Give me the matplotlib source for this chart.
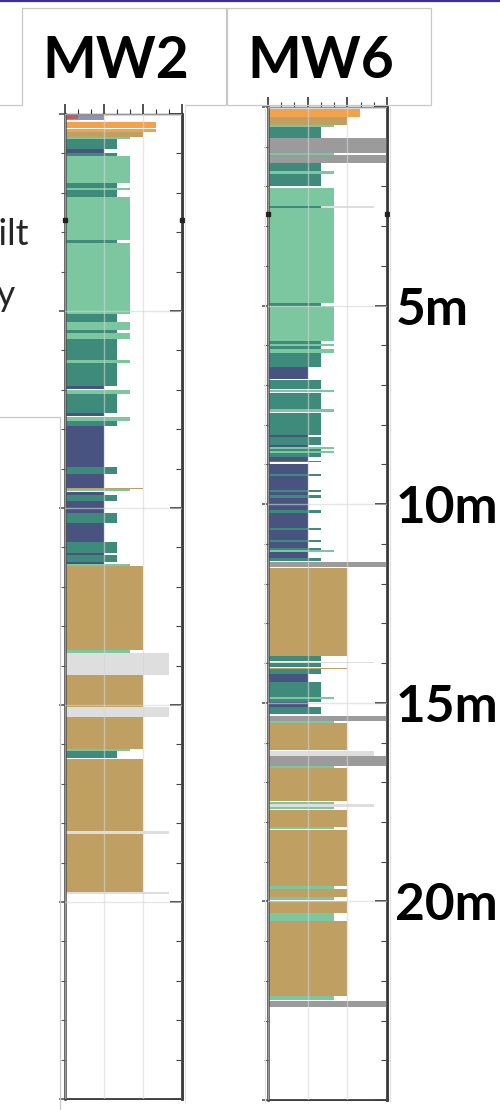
import matplotlib
matplotlib.use('Agg')
import matplotlib.pyplot as plt
from matplotlib.lines import Line2D
from matplotlib.patches import Rectangle
from matplotlib.ticker import MultipleLocator

plt.rcParams['font.family'] = ['Lato', 'DejaVu Sans']

W, H = 500, 1110

# classes: bar length (grain size scale 0-3) and colour
class_width = {'fill': 1.0, 'organic': 0.33, 'clay': 1.0, 'siltyclay': 1.33,
               'silt': 1.67, 'sand': 2.0, 'gravel': 2.33, 'norec': 2.67, 'casing': 3.0}
class_color = {'fill': '#8d94b6', 'organic': '#c65a5a', 'clay': '#48547f',
               'siltyclay': '#3f8b7b', 'silt': '#7cc7a0', 'sand': '#bf9f62',
               'gravel': '#f2a14c', 'norec': '#dedede', 'casing': '#9b9b9b'}

# MW2 log (depth in m)
mw2_top = [0.03, 0.03, 0.20, 0.38, 0.46, 0.58, 0.64, 0.90, 1.00, 1.07, 1.75, 1.88, 1.92,
           2.10, 3.20, 3.28, 5.08, 5.28, 5.48, 5.55, 5.70, 6.25, 6.32, 6.90, 7.00, 7.10,
           7.58, 7.70, 7.80, 7.92, 8.96, 9.14, 9.48, 9.53, 9.60, 9.66, 9.82, 10.12, 10.38,
           10.86, 11.14, 11.20, 11.37, 11.43, 11.47, 13.60, 13.68, 14.24, 15.05, 15.30,
           16.12, 16.17, 16.37, 18.20, 18.28, 19.75]
mw2_base = [0.15, 0.12, 0.36, 0.45, 0.58, 0.64, 0.88, 1.00, 1.07, 1.75, 1.88, 1.92, 2.10,
            3.20, 3.28, 5.08, 5.28, 5.48, 5.55, 5.70, 6.25, 6.32, 6.90, 6.98, 7.10, 7.58,
            7.66, 7.80, 7.92, 8.96, 9.14, 9.48, 9.53, 9.58, 9.66, 9.82, 10.12, 10.38, 10.86,
            11.14, 11.20, 11.37, 11.43, 11.47, 13.60, 13.67, 14.24, 15.05, 15.30, 16.12,
            16.17, 16.35, 18.20, 18.28, 19.75, 19.80]
mw2_cls = ['fill', 'organic', 'gravel', 'gravel', 'sand', 'silt', 'siltyclay', 'clay',
           'siltyclay', 'silt', 'siltyclay', 'silt', 'siltyclay', 'silt', 'siltyclay', 'silt',
           'siltyclay', 'silt', 'siltyclay', 'silt', 'siltyclay', 'silt', 'siltyclay', 'clay',
           'silt', 'siltyclay', 'clay', 'silt', 'siltyclay', 'clay', 'siltyclay', 'clay',
           'sand', 'silt', 'clay', 'siltyclay', 'clay', 'siltyclay', 'clay', 'siltyclay',
           'clay', 'siltyclay', 'clay', 'silt', 'sand', 'silt', 'norec', 'sand', 'norec',
           'sand', 'silt', 'siltyclay', 'sand', 'norec', 'sand', 'norec']

# MW6 log (depth in m)
mw6_top = [0.05, 0.25, 0.45, 0.50, 0.78, 1.15, 1.20, 1.40, 1.60, 1.68, 2.03, 2.50, 2.50,
           2.55, 4.93, 5.00, 5.90, 5.97, 6.02, 6.10, 6.20, 6.55, 6.88, 7.12, 7.20, 7.60,
           7.70, 8.25, 8.32, 8.50, 8.57, 8.62, 8.67, 8.72, 8.80, 8.90, 9.00, 9.25, 9.30,
           9.65, 9.70, 9.78, 9.85, 10.15, 10.22, 10.60, 10.65, 10.90, 10.95, 11.10, 11.16,
           11.20, 11.35, 11.46, 11.60, 13.82, 13.97, 14.00, 14.12, 14.16, 14.28, 14.48,
           14.70, 14.85, 14.90, 14.98, 15.10, 15.33, 15.45, 15.50, 16.22, 16.33, 16.58,
           16.63, 17.50, 17.55, 17.62, 17.70, 18.12, 18.20, 19.62, 19.68, 19.90, 19.98,
           20.30, 20.50, 22.37, 22.50]
mw6_base = [0.25, 0.45, 0.50, 0.78, 1.15, 1.20, 1.40, 1.60, 1.68, 2.00, 2.50, 2.55, 2.55,
            4.93, 5.00, 5.90, 5.97, 6.02, 6.10, 6.20, 6.55, 6.85, 7.10, 7.18, 7.60, 7.67,
            8.25, 8.32, 8.50, 8.55, 8.62, 8.67, 8.72, 8.80, 8.90, 8.95, 9.25, 9.30, 9.65,
            9.70, 9.78, 9.85, 10.15, 10.22, 10.60, 10.65, 10.90, 10.95, 11.10, 11.16, 11.20,
            11.35, 11.44, 11.58, 13.82, 13.95, 14.00, 14.10, 14.16, 14.28, 14.48, 14.70,
            14.85, 14.90, 14.97, 15.10, 15.27, 15.45, 15.50, 16.20, 16.33, 16.58, 16.63,
            17.48, 17.55, 17.62, 17.67, 18.12, 18.17, 19.62, 19.68, 19.90, 19.97, 20.30,
            20.50, 22.37, 22.48, 22.67]
mw6_cls = ['gravel', 'sand', 'silt', 'siltyclay', 'casing', 'silt', 'casing', 'siltyclay',
           'silt', 'siltyclay', 'silt', 'norec', 'siltyclay', 'silt', 'siltyclay', 'silt',
           'siltyclay', 'silt', 'siltyclay', 'silt', 'siltyclay', 'clay', 'siltyclay', 'silt',
           'siltyclay', 'silt', 'siltyclay', 'clay', 'siltyclay', 'clay', 'silt', 'siltyclay',
           'silt', 'siltyclay', 'clay', 'siltyclay', 'clay', 'siltyclay', 'clay', 'siltyclay',
           'clay', 'siltyclay', 'clay', 'siltyclay', 'clay', 'siltyclay', 'clay', 'siltyclay',
           'clay', 'siltyclay', 'silt', 'clay', 'siltyclay', 'casing', 'sand', 'siltyclay',
           'norec', 'siltyclay', 'sand', 'siltyclay', 'clay', 'siltyclay', 'siltyclay', 'silt',
           'siltyclay', 'clay', 'siltyclay', 'casing', 'silt', 'sand', 'norec', 'casing',
           'silt', 'sand', 'silt', 'norec', 'silt', 'sand', 'silt', 'sand', 'silt', 'sand',
           'silt', 'sand', 'silt', 'sand', 'silt', 'casing']

depth_ticks = [5, 10, 15, 20]
depth_labels = ['5m', '10m', '15m', '20m']
mark_depth = 2.7
max_depth = 25


def fx(px):
    return px / W


def fy(py):
    return 1 - py / H


fig = plt.figure(figsize=(W / 100, H / 100), dpi=100)


def draw_log(rect, tops, bases, cls, labels):
    l, t, r, b = rect
    ax = fig.add_axes([fx(l), fy(b), fx(r - l), (b - t) / H])
    centers = [(a + c) / 2 for a, c in zip(tops, bases)]
    thick = [c - a for a, c in zip(tops, bases)]
    ax.barh(centers, [class_width[c] for c in cls], height=thick, left=0,
            color=[class_color[c] for c in cls], linewidth=0, zorder=2)
    ax.plot([0, 3], [mark_depth, mark_depth], ls='none', marker='s', ms=2.2,
            color='#222222', clip_on=False, zorder=6)
    ax.set_xlim(0, 3)
    ax.set_ylim(max_depth, 0)
    ax.xaxis.set_major_locator(MultipleLocator(1))
    ax.xaxis.set_minor_locator(MultipleLocator(1 / 3))
    ax.yaxis.set_major_locator(MultipleLocator(5))
    ax.yaxis.set_minor_locator(MultipleLocator(1))
    ax.tick_params(axis='x', which='both', top=True, bottom=False, labeltop=False,
                   labelbottom=False, direction='out', color='#333333')
    ax.tick_params(axis='x', which='major', length=7, width=1.2)
    ax.tick_params(axis='x', which='minor', length=3.5, width=0.8)
    ax.tick_params(axis='y', which='both', left=True, right=False, labelleft=False,
                   direction='out', color='#555555')
    ax.tick_params(axis='y', which='major', length=4, width=1.2)
    ax.tick_params(axis='y', which='minor', length=3, width=0.8)
    ax.grid(which='major', color='#d6d6d6', alpha=0.6, linewidth=1.0, zorder=3)
    ax.set_axisbelow(False)
    for sp in ax.spines.values():
        sp.set_color('#3a3a3a')
        sp.set_linewidth(1.8)
    ax.spines['top'].set_linewidth(1.0)
    ax.spines['bottom'].set_linewidth(1.4)

    sec = ax.secondary_yaxis('right')
    sec.spines['right'].set_color('#3a3a3a')
    sec.spines['right'].set_linewidth(1.8)
    sec.yaxis.set_minor_locator(MultipleLocator(1))
    if labels:
        sec.set_yticks([0] + depth_ticks + [max_depth], [''] + depth_labels + [''],
                       fontsize=37, fontweight='bold')
    else:
        sec.set_yticks([0] + depth_ticks + [max_depth], [''] * (len(depth_ticks) + 2))
    sec.tick_params(which='both', direction='in', color='#444444')
    sec.tick_params(which='major', length=9, width=1.4, pad=6)
    sec.tick_params(which='minor', length=4, width=0.8)
    return ax


draw_log((65, 114, 182, 1099), mw2_top, mw2_base, mw2_cls, False)
draw_log((268, 107, 387, 1100), mw6_top, mw6_base, mw6_cls, True)

# slide decorations
box_col = '#c8c8c8'
fig.add_artist(Line2D([0, 1], [fy(1), fy(1)], color='#3b2f8f', lw=1.6))
fig.add_artist(Line2D([fx(0), fx(22), fx(22), fx(226), fx(226), fx(185)],
                      [fy(105), fy(105), fy(8), fy(8), fy(105), fy(105)],
                      color=box_col, lw=0.9))
fig.add_artist(Rectangle((fx(227), fy(105)), fx(204), 97 / H, transform=fig.transFigure,
                         fill=False, edgecolor=box_col, lw=0.9))
fig.add_artist(Line2D([fx(0), fx(60), fx(60)], [fy(417), fy(417), fy(1110)],
                      color=box_col, lw=0.9))
fig.add_artist(Line2D([fx(185), fx(185)], [fy(105), fy(1102)], color='#e0e0e0', lw=0.8))
fig.add_artist(Line2D([fx(265), fx(265)], [fy(107), fy(1102)], color='#e0e0e0', lw=0.8))
fig.add_artist(Line2D([fx(390), fx(390)], [fy(107), fy(1102)], color='#e0e0e0', lw=0.8))

fig.text(fx(116), fy(78), 'MW2', ha='center', va='baseline', fontsize=41, fontweight='bold')
fig.text(fx(321), fy(78), 'MW6', ha='center', va='baseline', fontsize=41, fontweight='bold')
# partial legend words cut by the slide edge, as in the reference
fig.text(fx(29), fy(245), 'Silt', ha='right', va='baseline', fontsize=26, color='#262626')
fig.text(fx(15), fy(306), 'Clay', ha='right', va='baseline', fontsize=26, color='#262626')

fig.savefig('out.png', dpi=100)
